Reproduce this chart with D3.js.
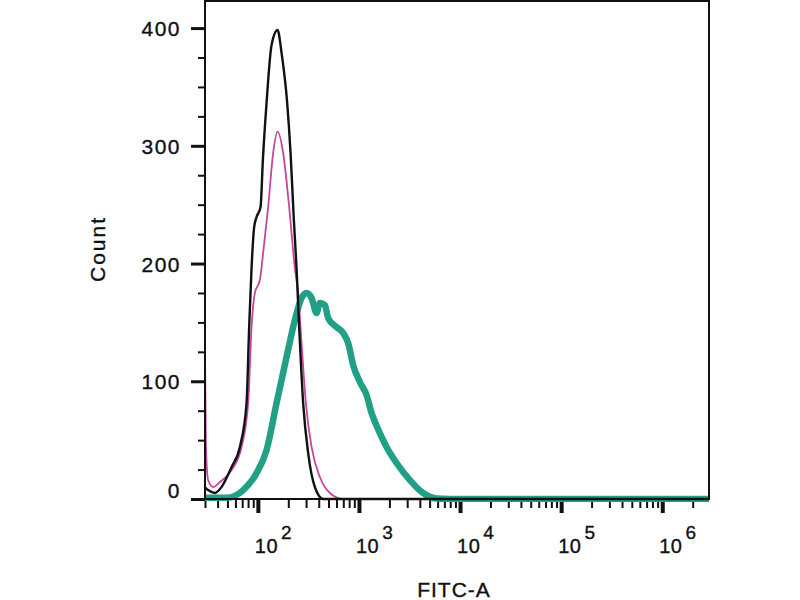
<!DOCTYPE html>
<html>
<head>
<meta charset="utf-8">
<script src="https://cdn.jsdelivr.net/npm/d3@7"></script>
<style>
  body { margin: 0; background: #fff; }
  text { font-family: "Liberation Sans", Arial, sans-serif; fill: #111; stroke: #111; stroke-width: 0.35px; }
</style>
</head>
<body>
<div id="chart"></div>
<script>
// Histogram data (FITC-A value, count)
var blackX = [30, 32.2, 37.6, 43.7, 55, 66.4, 77.3, 82, 86.6, 91.9, 97.1, 106.3, 112.1, 121.9, 136.6, 156.6,
  171.6, 195, 210.6, 227, 241.4, 256.2, 280.6, 314.5, 366.3, 442.6, 1000, 2900000];
var blackY = [10, 7.6, 5.1, 10.2, 27.2, 44.2, 81.5, 146, 196, 231, 239.5, 248, 288, 336.4, 385.6, 398.4,
  378.8, 336.4, 293.9, 237, 196, 146, 81.5, 39, 10.2, 0, 0, 0];

var pinkX = [30, 30.6, 32.2, 36.1, 42.1, 55, 69, 80.2, 86.6, 93.4, 104.7, 112.8, 126.4, 141.7, 156.6,
  177.9, 204, 232.3, 250.4, 270.5, 298.4, 339.8, 410.5, 515.4, 697.9, 2000, 2900000];
var pinkY = [122, 47.6, 16.1, 10.2, 14.4, 24.6, 44.2, 81.5, 146, 175, 186, 209, 248, 293.9, 312,
  293.9, 248, 196, 175, 132.5, 81.5, 44.2, 18.7, 5.1, 0, 0, 0];

var tealX = [31.1, 49, 71.6, 97.1, 121.9, 153.1, 192.2, 232.3, 270.5, 303.2, 339.8, 380.7, 410.5, 460,
  495.9, 600.6, 697.9, 781.9, 876.2, 1021, 1189, 1333, 1610, 1875, 2355, 3188, 4315, 5856, 7943, 2900000];
var tealY = [1, 1, 7.6, 22, 41.6, 81.5, 120.6, 152, 170.7, 175, 170.7, 158, 166.5, 164.8,
  153.7, 146, 141, 132.5, 113.8, 99.4, 88.3, 73, 56, 44.2, 30.6, 16.1, 5.1, 0.4, 0, 0];

// Axis ticks
var yTicks = [0, 100, 200, 300, 400];
var xDecades = [2, 3, 4, 5, 6];

var svgWidth = 800;
var svgHeight = 600;

// Plot frame in page pixels
var frame = { left: 205, right: 709, top: 1, bottom: 499 };

var svg = d3.select("#chart")
  .append("svg")
  .attr("width", svgWidth)
  .attr("height", svgHeight);

var xScale = d3.scaleLog()
  .domain([30, 2900000])
  .range([frame.left, frame.right]);

var yScale = d3.scaleLinear()
  .domain([0, 423])
  .range([frame.bottom, frame.top]);

// Clip the curves to the plot box
svg.append("clipPath")
  .attr("id", "plotClip")
  .append("rect")
  .attr("x", frame.left)
  .attr("y", frame.top)
  .attr("width", frame.right - frame.left)
  .attr("height", frame.bottom - frame.top + 3);

// Minor and major ticks on y
var yMinor = d3.range(0, 425, 25).filter(d => d % 100 !== 0);
svg.append("g")
  .attr("transform", `translate(${frame.left}, 0)`)
  .call(d3.axisLeft(yScale).tickValues(yMinor).tickSize(7).tickFormat(""))
  .call(g => g.select(".domain").remove())
  .call(g => g.selectAll("line").attr("stroke", "#111").attr("stroke-width", 2));

var yAxis = svg.append("g")
  .attr("transform", `translate(${frame.left}, 0)`)
  .call(d3.axisLeft(yScale).tickValues(yTicks).tickSize(14).tickPadding(10));
yAxis.select(".domain").remove();
yAxis.selectAll("line").attr("stroke", "#111").attr("stroke-width", 3);
yAxis.selectAll("text")
  .attr("font-size", 21)
  .attr("letter-spacing", 1.5)
  .attr("fill", "#111")
  .attr("dy", d => d === 0 ? "-0.05em" : "0.36em");

// Minor and major ticks on x
var xMinor = [];
for (var e = 1; e <= 6; e++) {
  for (var k = 2; k <= 9; k++) {
    var v = k * Math.pow(10, e);
    if (v >= 30 && v <= 2900000) xMinor.push(v);
  }
}
svg.append("g")
  .attr("transform", `translate(0, ${frame.bottom})`)
  .call(d3.axisBottom(xScale).tickValues(xMinor).tickSize(9).tickFormat(""))
  .call(g => g.select(".domain").remove())
  .call(g => g.selectAll("line").attr("stroke", "#111").attr("stroke-width", 2));

var xMajor = xDecades.map(d => Math.pow(10, d));
var xAxis = svg.append("g")
  .attr("transform", `translate(0, ${frame.bottom})`)
  .call(d3.axisBottom(xScale).tickValues(xMajor).tickSize(14).tickFormat(""));
xAxis.select(".domain").remove();
xAxis.selectAll("line").attr("stroke", "#111").attr("stroke-width", 4);

// Decade labels as 10 with a raised exponent
var xLabels = svg.append("g");
xDecades.forEach(function(d) {
  var t = xLabels.append("text")
    .attr("x", xScale(Math.pow(10, d)) - 3)
    .attr("y", 553)
    .attr("font-size", 20)
    .attr("letter-spacing", 0.5);
  t.append("tspan").text("10");
  t.append("tspan")
    .attr("dx", 3)
    .attr("dy", -14)
    .attr("font-size", 19)
    .text(d);
});

// Curves
var plot = svg.append("g").attr("clip-path", "url(#plotClip)");

function makeLine() {
  return d3.line()
    .x(d => xScale(d[0]))
    .y(d => yScale(d[1]))
    .curve(d3.curveMonotoneX);
}

var series = [
  { xs: tealX, ys: tealY, color: "#21a086", width: 6.5 },
  { xs: pinkX, ys: pinkY, color: "#c4479c", width: 1.8 },
  { xs: blackX, ys: blackY, color: "#111111", width: 2.4 }
];

series.forEach(function(s) {
  var pts = s.xs.map((x, i) => [x, s.ys[i]]);
  plot.append("path")
    .datum(pts)
    .attr("fill", "none")
    .attr("stroke", s.color)
    .attr("stroke-width", s.width)
    .attr("stroke-linejoin", "round")
    .attr("stroke-linecap", "round")
    .attr("d", makeLine());
});

// Frame around the plot
svg.append("rect")
  .attr("x", frame.left)
  .attr("y", frame.top)
  .attr("width", frame.right - frame.left)
  .attr("height", frame.bottom - frame.top)
  .attr("fill", "none")
  .attr("stroke", "#111")
  .attr("stroke-width", 2);

// Axis titles
svg.append("text")
  .attr("transform", "translate(105, 249) rotate(-90)")
  .attr("text-anchor", "middle")
  .attr("font-size", 21)
  .attr("letter-spacing", 2)
  .text("Count");

svg.append("text")
  .attr("x", 454)
  .attr("y", 597)
  .attr("text-anchor", "middle")
  .attr("font-size", 21)
  .attr("letter-spacing", 1)
  .text("FITC-A");
</script>
</body>
</html>
